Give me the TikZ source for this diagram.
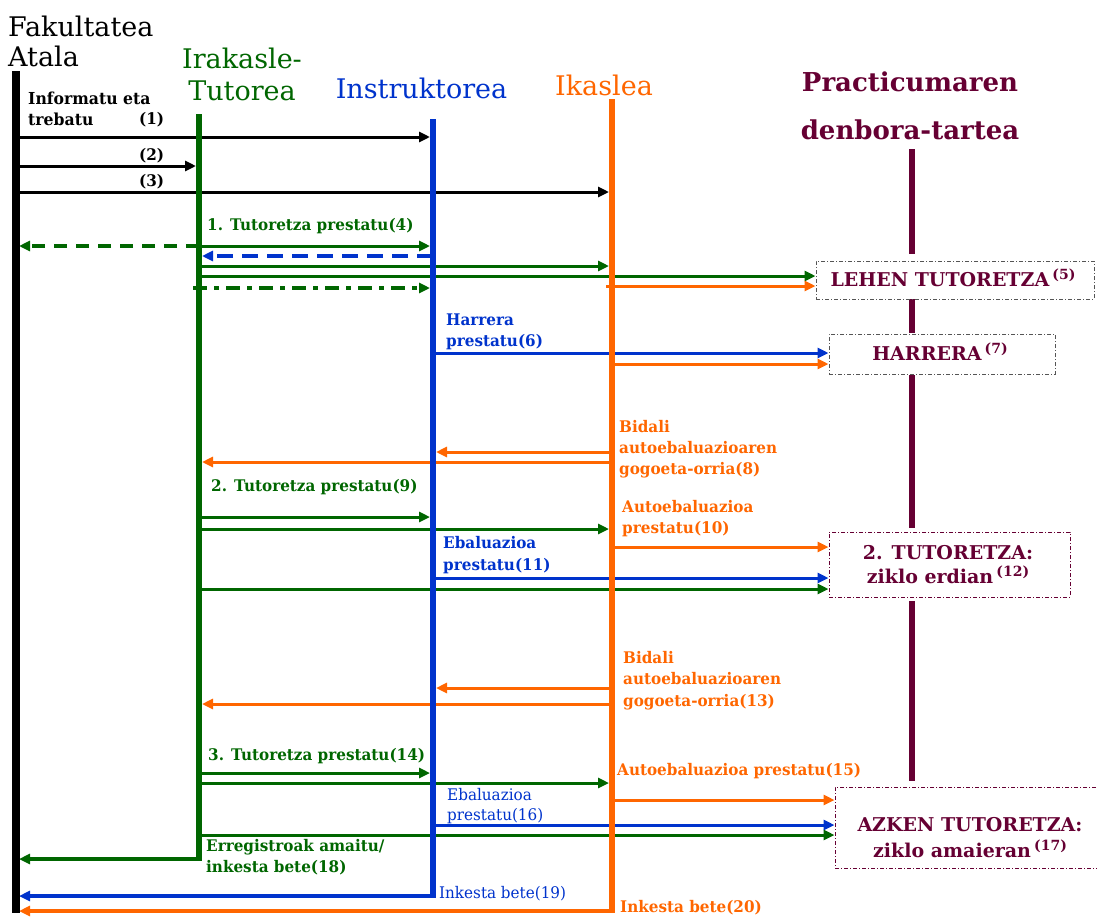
\documentclass[tikz,border=0pt]{standalone}
\usepackage{fontspec}
\setmainfont{DejaVu Serif}
\newfontfamily\bxfont{DejaVu Serif}
\newfontfamily\lblfont{DejaVu Serif}[FakeStretch=0.95]
\usetikzlibrary{arrows.meta}
\definecolor{cgreen}{HTML}{006600}
\definecolor{cblue}{HTML}{0033CC}
\definecolor{corange}{HTML}{FF6600}
\definecolor{cpurple}{HTML}{660033}
\definecolor{cgrey}{HTML}{555555}
\newcommand\supn[1]{\,\raisebox{7pt}{\fontsize{14}{14}\selectfont #1}}
\begin{document}
\begin{tikzpicture}[x=1pt,y=-1pt,
  arr/.style={-{Triangle[length=11pt,width=10pt]}},
  life/.style={line width=6.5pt},
  msg/.style={line width=3pt,arr},
  toline/.style={shorten >=3pt},
  dashmsg/.style={line width=3.6pt,dash pattern=on 13pt off 9pt},
  lbl/.style={font=\lblfont\bfseries\fontsize{16}{21}\selectfont,inner sep=0,align=left},
  rlbl/.style={font=\lblfont\fontsize{16}{20}\selectfont,inner sep=0,align=left},
  ttl/.style={font=\fontsize{27}{30}\selectfont,inner sep=0},
  bx/.style={line width=1pt,dash pattern=on 4pt off 2pt on 1pt off 2pt,fill=white,inner sep=0},
  bxtext/.style={font=\bxfont\bfseries\fontsize{19}{24}\selectfont,text=cpurple,align=center,inner sep=0}]
\useasboundingbox (0,0) rectangle (1097,916);
% lifeline positions
\coordinate (F) at (16,0);
\coordinate (G) at (199,0);
\coordinate (B) at (433,0);
\coordinate (O) at (612,0);
\coordinate (P) at (912,0);
% purple time line
\draw[life,cpurple] (P|-0,149) -- (P|-0,254);
\draw[life,cpurple] (P|-0,293) -- (P|-0,333);
\draw[life,cpurple] (P|-0,375) -- (P|-0,528);
\draw[life,cpurple] (P|-0,601) -- (P|-0,781);
% boxes
\node[bx,draw=cgrey,minimum width=278pt,minimum height=38pt] (b5) at (955,280) {};
\node[bx,draw=cgrey,minimum width=226pt,minimum height=40pt] (b7) at (942,354) {};
\node[bx,draw=cpurple,minimum width=241pt,minimum height=65pt] (b12) at (949.5,564.5) {};
\node[bx,draw=cpurple,minimum width=270pt,minimum height=81pt] (b17) at (970,827.5) {};
\node[bxtext,anchor=base] (t5) at (953,286) {LEHEN TUTORETZA\supn{(5)}};
\node[bxtext,anchor=base] (t7) at (940,360) {HARRERA\supn{(7)}};
\node[bxtext,anchor=north] (t12) at (948,545) {2. TUTORETZA:\\ziklo erdian\supn{(12)}};
\node[bxtext,font=\bxfont\bfseries\fontsize{19}{26}\selectfont,anchor=north] (t17) at (970,817) {AZKEN TUTORETZA:\\ziklo amaieran\supn{(17)}};
% messages
\draw[msg,toline] (F|-0,137) -- (B|-0,137);
\draw[msg,toline] (F|-0,166) -- (G|-0,166);
\draw[msg,toline] (F|-0,192) -- (O|-0,192);
\draw[msg,toline,cgreen,dashmsg] (G|-0,246) -- (F|-0,246);
\draw[msg,toline,cgreen] (G|-0,246) -- (B|-0,246);
\draw[msg,toline,cblue,dashmsg,dash pattern=on 16pt off 9pt] (B|-0,256) -- (G|-0,256);
\draw[msg,toline,cgreen] (G|-0,266) -- (O|-0,266);
\draw[msg,cgreen] (G|-0,276) -- (b5.west|-0,276);
\draw[msg,toline,cgreen,dashmsg,dash pattern=on 14pt off 7pt on 5pt off 7pt] ([xshift=-6pt]G|-0,288) -- (B|-0,288);
\draw[msg,corange] ([xshift=-6pt]O|-0,286) -- (b5.west|-0,286);
\draw[msg,cblue] (B|-0,353) -- (b7.west|-0,353);
\draw[msg,corange] (O|-0,364) -- (b7.west|-0,364);
\draw[msg,toline,corange] (O|-0,452) -- (B|-0,452);
\draw[msg,toline,corange] (O|-0,462) -- (G|-0,462);
\draw[msg,toline,cgreen] (G|-0,517) -- (B|-0,517);
\draw[msg,toline,cgreen] (G|-0,529) -- (O|-0,529);
\draw[msg,corange] (O|-0,547) -- (b12.west|-0,547);
\draw[msg,cblue] (B|-0,578) -- (b12.west|-0,578);
\draw[msg,cgreen] (G|-0,589) -- (b12.west|-0,589);
\draw[msg,toline,corange] (O|-0,688) -- (B|-0,688);
\draw[msg,toline,corange] (O|-0,704) -- (G|-0,704);
\draw[msg,toline,cgreen] (G|-0,773) -- (B|-0,773);
\draw[msg,toline,cgreen] (G|-0,783) -- (O|-0,783);
\draw[msg,corange] (O|-0,800) -- (b17.west|-0,800);
\draw[msg,cblue] (B|-0,825) -- (b17.west|-0,825);
\draw[msg,cgreen] (G|-0,835) -- (b17.west|-0,835);
\draw[cgreen,line width=3.2pt,arr,toline] (G|-0,859) -- (F|-0,859);
\draw[cblue,line width=3.6pt,arr,toline] (B|-0,896) -- (F|-0,896);
\draw[corange,line width=3.6pt,arr,toline] (O|-0,911) -- (F|-0,911);
% lifelines
\draw[life,line width=7.5pt] (F|-0,71) -- (F|-0,913);
\draw[life,cgreen] (G|-0,114) -- (G|-0,860.6);
\draw[life,cblue] (B|-0,119) -- (B|-0,897.8);
\draw[life,corange] (O|-0,99) -- (O|-0,912.8);
% headings
\node[ttl,align=left,anchor=north west] (lfak) at (8,15.5) {Fakultatea\\Atala};
\node[ttl,font=\fontsize{27}{32}\selectfont,text=cgreen,align=center,anchor=north] (lirak) at (242,47.5) {Irakasle-\\Tutorea};
\node[ttl,text=cblue,anchor=base] (linst) at (421.5,98) {Instruktorea};
\node[ttl,text=corange,anchor=base] (lika) at (604,95) {Ikaslea};
\node[ttl,font=\bfseries\fontsize{26}{48}\selectfont,text=cpurple,align=center,anchor=north] (lprac) at (910,72) {Practicumaren\\denbora-tartea};
% message labels
\node[lbl,font=\lblfont\bfseries\fontsize{16.5}{21}\selectfont,anchor=north west] (l1) at (28,92) {Informatu eta\\trebatu};
\node[lbl,anchor=base west] (n1) at (139,124) {(1)};
\node[lbl,anchor=base west] (n2) at (139,160) {(2)};
\node[lbl,anchor=base west] (n3) at (139,186) {(3)};
\node[lbl,text=cgreen,anchor=base west] (l4) at (207,230) {1. Tutoretza prestatu(4)};
\node[lbl,text=cblue,anchor=north west] (l6) at (446,314) {Harrera\\prestatu(6)};
\node[lbl,text=corange,anchor=north west] (l8) at (619,420) {Bidali\\autoebaluazioaren\\gogoeta-orria(8)};
\node[lbl,text=cgreen,anchor=base west] (l9) at (211,491) {2. Tutoretza prestatu(9)};
\node[lbl,text=corange,anchor=north west] (l10) at (622,500) {Autoebaluazioa\\prestatu(10)};
\node[lbl,font=\lblfont\bfseries\fontsize{16}{22}\selectfont,text=cblue,anchor=north west] (l11) at (443,536) {Ebaluazioa\\prestatu(11)};
\node[lbl,font=\lblfont\bfseries\fontsize{16}{21.5}\selectfont,text=corange,anchor=north west] (l13) at (623,651) {Bidali\\autoebaluazioaren\\gogoeta-orria(13)};
\node[lbl,text=cgreen,anchor=base west] (l14) at (208,760) {3. Tutoretza prestatu(14)};
\node[lbl,text=corange,anchor=base west] (l15) at (617,775) {Autoebaluazioa prestatu(15)};
\node[rlbl,text=cblue,anchor=north west] (l16) at (447,788) {Ebaluazioa\\prestatu(16)};
\node[lbl,text=cgreen,anchor=north west] (l18) at (206,839) {Erregistroak amaitu/\\inkesta bete(18)};
\node[rlbl,text=cblue,anchor=base west] (l19) at (439,898) {Inkesta bete(19)};
\node[lbl,text=corange,anchor=base west] (l20) at (620,912) {Inkesta bete(20)};
\end{tikzpicture}
\end{document}
